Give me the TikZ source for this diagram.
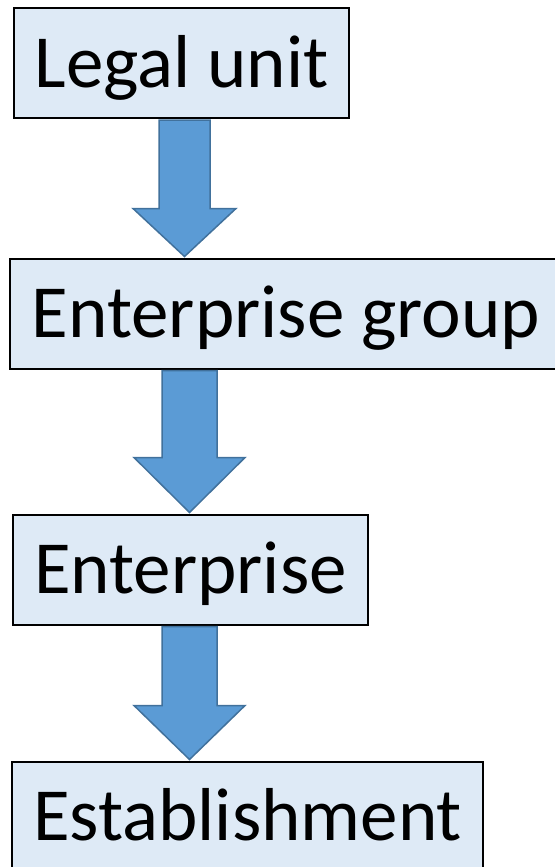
\documentclass[tikz,border=0pt]{standalone}
\usepackage{fontspec}
\setmainfont{Carlito}
\usetikzlibrary{calc}
\definecolor{boxfill}{HTML}{DEEAF6}
\definecolor{arrowfill}{HTML}{5B9BD5}
\definecolor{arrowline}{HTML}{41719C}
\tikzset{unitbox/.style={draw=black, line width=2pt, fill=boxfill, font=\fontsize{75}{90}\selectfont,
  text height=48pt, text depth=0pt, inner sep=0pt, minimum height=110pt}}
\newcommand{\blockarrow}[6]{%
  \filldraw[fill=arrowfill, draw=arrowline, line width=1.5pt, line join=miter]
    let \p1=(#1.south), \p2=(#2.north) in
    ({#3pt-#4pt},{\y1-1pt}) -- ({#3pt-#4pt},{\y2+#6pt}) -- ({#3pt-#5pt},{\y2+#6pt})
    -- ({#3pt},{\y2+1pt}) -- ({#3pt+#5pt},{\y2+#6pt}) -- ({#3pt+#4pt},{\y2+#6pt})
    -- ({#3pt+#4pt},{\y1-1pt}) -- cycle;}
\begin{document}
\begin{tikzpicture}[x=1pt, y=-1pt]
	\useasboundingbox (0,0) rectangle (554,867);
	\node[unitbox, minimum width=335pt] (legal) at (181.5,63) {Legal unit};
	\node[unitbox, minimum width=552pt] (group) at (286,313.5) {Enterprise group};
	\node[unitbox, minimum width=355pt] (enterprise) at (190.5,569.5) {Enterprise};
	\node[unitbox, minimum width=471pt] (establishment) at (247.5,816.5) {Establishment};
	\blockarrow{legal}{group}{184.5}{25.5}{51.5}{49}
	\blockarrow{group}{enterprise}{189.5}{27.5}{55.5}{56}
	\blockarrow{enterprise}{establishment}{189.5}{27.5}{55.5}{55}
\end{tikzpicture}
\end{document}
